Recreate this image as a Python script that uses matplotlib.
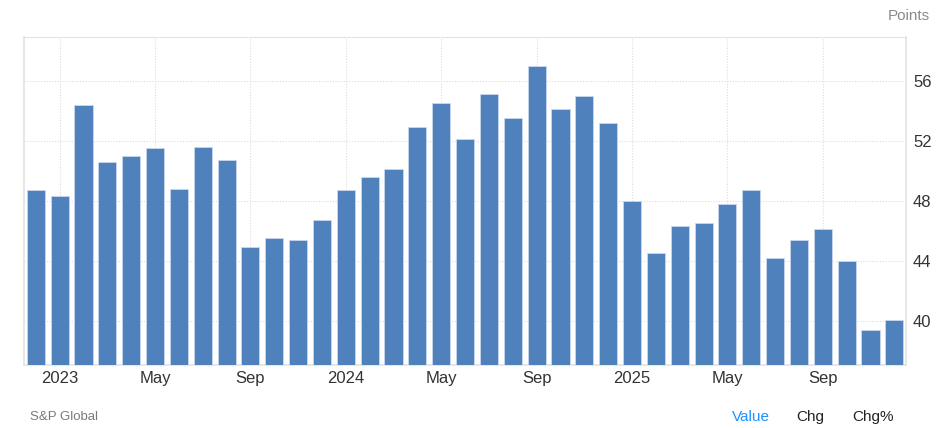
import matplotlib
matplotlib.use("Agg")
import matplotlib.pyplot as plt
import pandas as pd

plt.rcParams["font.family"] = ["Liberation Sans", "DejaVu Sans"]

# monthly values, Dec 2022 .. Dec 2025
months = pd.date_range("2022-12-01", "2025-12-01", freq="MS")
values = [
    48.7, 48.3, 54.4, 50.6, 51.0, 51.5, 48.8, 51.6, 50.7, 44.9, 45.5, 45.4,
    46.7, 48.7, 49.6, 50.1, 52.9, 54.5, 52.1, 55.1, 53.5, 57.0, 54.1, 55.0,
    53.2, 48.0, 44.5, 46.3, 46.5, 47.8, 48.7, 44.2, 45.4, 46.1, 44.0, 39.4,
    40.1,
]
y_ticks = [40, 44, 48, 52, 56]
y_min, y_max = 37.07, 58.9

BAR = "#4f81bd"
GRID = "#dcdcdc"
SPINE = "#e3e3e3"
TEXT = "#333333"

fig = plt.figure(figsize=(9.36, 4.28), dpi=100)
ax = fig.add_axes([0.026, 0.147, 0.942, 0.766])

x = list(range(len(values)))
ax.bar(x, [v - y_min for v in values], bottom=y_min, width=0.76,
       color=BAR, edgecolor="#c9d8ec", linewidth=0.6, zorder=3)

ax.set_xlim(-0.48, len(values) - 0.51)
ax.set_ylim(y_min, y_max)

# x ticks every 4 months, starting Jan 2023
tick_pos = [i for i, m in enumerate(months) if m.month in (1, 5, 9)]
tick_lab = [str(months[i].year) if months[i].month == 1 else months[i].strftime("%b")
            for i in tick_pos]
ax.set_xticks(tick_pos)
ax.set_xticklabels(tick_lab)
ax.set_yticks(y_ticks)

ax.yaxis.tick_right()
ax.tick_params(axis="y", length=0, labelsize=12, labelcolor=TEXT, pad=5)
ax.tick_params(axis="x", length=0, labelsize=12, labelcolor=TEXT, pad=4)

ax.grid(True, color=GRID, linestyle=(0, (1, 1.5)), linewidth=0.8, zorder=0)
ax.set_axisbelow(True)

for side in ("left", "right", "bottom"):
    ax.spines[side].set_color(SPINE)
    ax.spines[side].set_linewidth(1.2)
ax.spines["top"].set_color(GRID)
ax.spines["top"].set_linestyle((0, (1, 1.5)))
ax.spines["top"].set_linewidth(0.8)

fig.text(0.993, 0.962, "Points", ha="right", va="center", fontsize=11, color="#8a8a8a")
fig.text(0.032, 0.026, "S&P Global", ha="left", va="center", fontsize=9.5, color="#7a7a7a")
fig.text(0.782, 0.026, "Value", ha="left", va="center", fontsize=11, color="#1e90ff")
fig.text(0.851, 0.026, "Chg", ha="left", va="center", fontsize=11, color="#222222")
fig.text(0.911, 0.026, "Chg%", ha="left", va="center", fontsize=11, color="#222222")

fig.savefig("out.png", dpi=100)
